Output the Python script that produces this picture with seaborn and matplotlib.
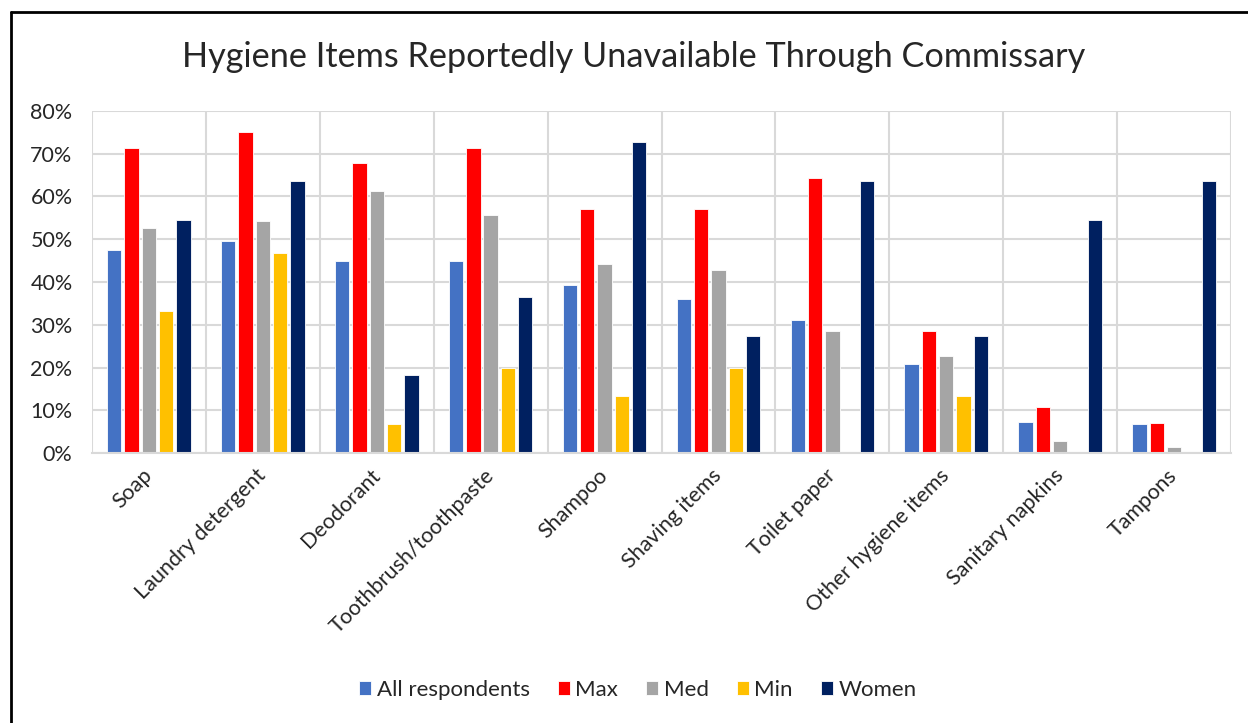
import matplotlib
matplotlib.use("Agg")
import matplotlib.pyplot as plt
from matplotlib.lines import Line2D
from matplotlib.ticker import PercentFormatter, FixedLocator
import seaborn as sns
import pandas as pd
import numpy as np

categories = ["Soap", "Laundry detergent", "Deodorant", "Toothbrush/toothpaste",
              "Shampoo", "Shaving items", "Toilet paper", "Other hygiene items",
              "Sanitary napkins", "Tampons"]
series_names = ["All respondents", "Max", "Med", "Min", "Women"]
all_respondents = [47.5, 49.5, 44.8, 44.8, 39.3, 36.0, 31.1, 20.9, 7.3, 6.8]
max_vals = [71.4, 75.0, 67.9, 71.4, 57.1, 57.1, 64.3, 28.6, 10.7, 7.1]
med_vals = [52.7, 54.2, 61.4, 55.6, 44.2, 42.7, 28.5, 22.7, 2.7, 1.3]
min_vals = [33.3, 46.7, 6.7, 20.0, 13.3, 20.0, 0.0, 13.3, 0.0, 0.0]
women_vals = [54.5, 63.6, 18.2, 36.4, 72.7, 27.3, 63.6, 27.3, 54.5, 63.6]
colors = ["#4472C4", "#FF0000", "#A5A5A5", "#FFC000", "#002060"]
yticks = [0, 10, 20, 30, 40, 50, 60, 70, 80]

rows = []
for name, vals in zip(series_names, [all_respondents, max_vals, med_vals, min_vals, women_vals]):
    for c, v in zip(categories, vals):
        rows.append({"Category": c, "Series": name, "Value": v})
df = pd.DataFrame(rows)

sns.set_style("white")
plt.rcParams["font.family"] = ["Lato", "DejaVu Sans"]

fig = plt.figure(figsize=(12.48, 7.23), dpi=100)
ax = fig.add_axes([0.0737, 0.3734, 0.9127, 0.4731])

sns.barplot(data=df, x="Category", y="Value", hue="Series", order=categories,
            hue_order=series_names, palette=colors, width=0.76, gap=0.17,
            edgecolor="white", linewidth=0.6, saturation=1, ax=ax, legend=True)

ax.set_ylim(0, 80)
ax.set_xlim(-0.5, len(categories) - 0.5)
ax.yaxis.set_major_locator(FixedLocator(yticks))
ax.yaxis.set_major_formatter(PercentFormatter(xmax=100, decimals=0))
ax.set_xlabel("")
ax.set_ylabel("")

grid_c = "#D9D9D9"
ax.grid(axis="y", color=grid_c, linewidth=1.5)
ax.set_axisbelow(True)
bounds = np.arange(-0.5, len(categories) + 0.5, 1.0)
ax.xaxis.set_minor_locator(FixedLocator(bounds))
ax.grid(axis="x", which="minor", color=grid_c, linewidth=1.5)
ax.tick_params(axis="x", which="major", length=0)
ax.tick_params(axis="x", which="minor", length=6, width=1.5, color=grid_c, direction="out")
ax.tick_params(axis="y", length=0, labelsize=15.5, pad=14)

for s in ["top", "right", "left"]:
    ax.spines[s].set_visible(False)
ax.spines["bottom"].set_color(grid_c)
ax.spines["bottom"].set_linewidth(1.5)

ax.set_xticks(range(len(categories)))
ax.set_xticklabels(categories, rotation=45, ha="right", va="center",
                   rotation_mode="anchor", fontsize=15.5)
ax.tick_params(axis="x", which="major", pad=14)

fig.suptitle("Hygiene Items Reportedly Unavailable Through Commissary",
             fontsize=24.7, y=0.921, x=0.508, va="center")

handles, labels = ax.get_legend_handles_labels()
ax.get_legend().remove()
fig.legend(handles, labels, loc="center", bbox_to_anchor=(0.511, 0.0456), ncol=5,
           frameon=False, fontsize=16, handlelength=0.55, handleheight=0.55,
           handletextpad=0.25, columnspacing=1.25)

fig.add_artist(Line2D([0.0088, 0.0088], [0.0, 0.9834], transform=fig.transFigure,
                      color="black", linewidth=2))
fig.add_artist(Line2D([0.0088, 1.0], [0.9834, 0.9834], transform=fig.transFigure,
                      color="black", linewidth=2))

fig.savefig("out.png", dpi=100)
